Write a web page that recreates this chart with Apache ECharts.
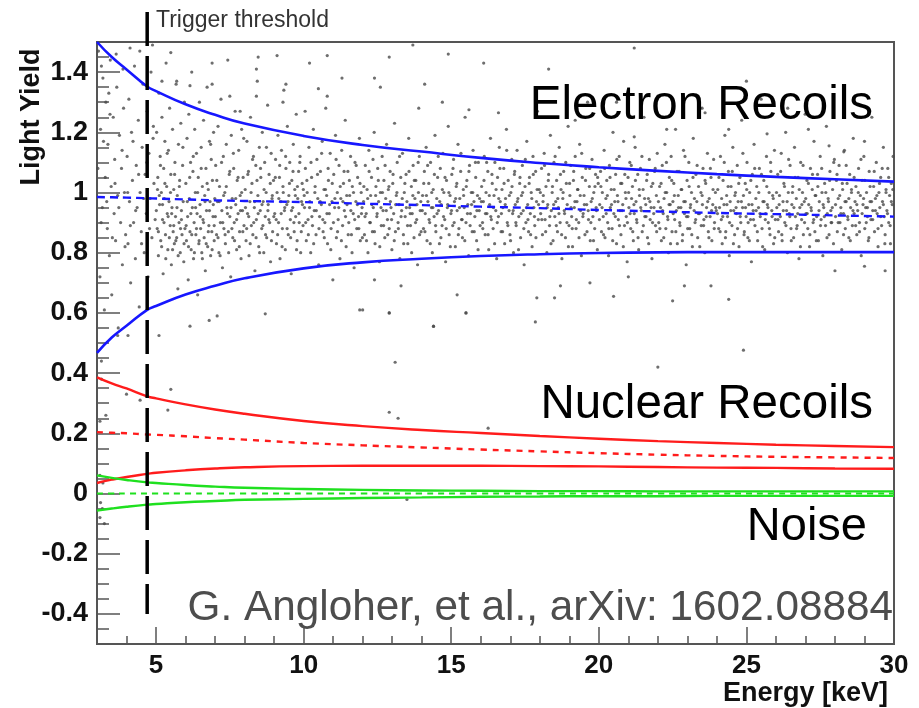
<!DOCTYPE html>
<html>
<head>
<meta charset="utf-8">
<script src="https://cdn.jsdelivr.net/npm/echarts@6/dist/echarts.min.js"></script>
<style>
  html, body { margin: 0; padding: 0; background: #fff; }
  #container { width: 919px; height: 708px; }
</style>
</head>
<body>
<div id="container"></div>
<script>
// band curves
var energyGrid = [3, 3.5, 4, 4.7, 5, 6, 7, 8, 10, 12, 14, 16, 18, 20, 22, 24, 26, 28, 30];
var erUpper  = [1.50, 1.45, 1.409, 1.352, 1.337, 1.293, 1.258, 1.229, 1.188, 1.158, 1.136, 1.115, 1.098, 1.084, 1.072, 1.061, 1.052, 1.044, 1.036];
var erCenter = [0.985, 0.984, 0.983, 0.981, 0.98, 0.977, 0.974, 0.972, 0.968, 0.963, 0.958, 0.953, 0.948, 0.942, 0.937, 0.932, 0.928, 0.924, 0.92];
var erLower  = [0.467, 0.518, 0.557, 0.61, 0.623, 0.661, 0.69, 0.715, 0.748, 0.768, 0.78, 0.789, 0.795, 0.799, 0.801, 0.802, 0.802, 0.802, 0.802];
var nrUpper  = [0.386, 0.366, 0.349, 0.323, 0.316, 0.296, 0.279, 0.265, 0.241, 0.224, 0.211, 0.201, 0.191, 0.182, 0.174, 0.168, 0.162, 0.158, 0.154];
var nrCenter = [0.204, 0.202, 0.2, 0.196, 0.195, 0.19, 0.184, 0.179, 0.168, 0.16, 0.153, 0.146, 0.14, 0.134, 0.129, 0.125, 0.122, 0.12, 0.118];
var nrLower  = [0.035, 0.046, 0.055, 0.065, 0.069, 0.077, 0.083, 0.087, 0.091, 0.092, 0.092, 0.092, 0.091, 0.09, 0.088, 0.086, 0.085, 0.083, 0.082];
var noiseUpper  = [0.06, 0.052, 0.045, 0.037, 0.035, 0.028, 0.023, 0.019, 0.015, 0.012, 0.01, 0.009, 0.008, 0.008, 0.007, 0.007, 0.007, 0.007, 0.007];
var noiseCenter = [0, 0, 0, 0, 0, 0, 0, 0, 0, 0, 0, 0, 0, 0, 0, 0, 0, 0, 0];
var noiseLower  = [-0.057, -0.05, -0.044, -0.037, -0.035, -0.029, -0.025, -0.021, -0.018, -0.015, -0.013, -0.011, -0.01, -0.009, -0.009, -0.008, -0.008, -0.008, -0.008];

var triggerEnergy = 4.7;
var triggerSpan = [1.6, -0.4];

// ticks
var xMajorTicks = [5, 10, 15, 20, 25, 30];
var xMinorTicks = [4, 6, 7, 8, 9, 11, 12, 13, 14, 16, 17, 18, 19, 21, 22, 23, 24, 26, 27, 28, 29];
var yMajorTicks = [-0.4, -0.2, 0, 0.2, 0.4, 0.6, 0.8, 1, 1.2, 1.4];
var yMinorTicks = [-0.45, -0.35, -0.3, -0.25, -0.15, -0.1, -0.05, 0.05, 0.1, 0.15, 0.25, 0.3, 0.35, 0.45,
  0.5, 0.55, 0.65, 0.7, 0.75, 0.85, 0.9, 0.95, 1.05, 1.1, 1.15, 1.25, 1.3, 1.35, 1.45];

// events (energy keV, light yield)
var events3to5 = [[3.05,1.47],[3.1,0.72],[3.12,1.21],[3.18,0.95],[3.2,1.38],[3.25,0.61],[3.28,1.05],[3.3,1.3],[3.35,0.88],[3.37,1.16],
  [3.42,0.79],[3.45,1.44],[3.48,1.02],[3.5,0.66],[3.55,1.25],[3.58,0.93],[3.6,1.11],[3.63,0.84],[3.67,1.35],[3.7,0.99],
  [3.72,0.55],[3.76,1.19],[3.8,0.9],[3.83,1.08],[3.86,0.76],[3.9,1.28],[3.93,1.0],[3.97,0.86],[3.15,1.42],[3.4,1.33],
  [3.65,1.46],[3.88,1.41],[4.02,1.12],[4.05,0.83],[4.08,1.31],[4.1,0.97],[4.14,0.7],[4.17,1.2],[4.2,1.04],[4.24,0.9],
  [4.27,1.42],[4.3,0.78],[4.33,1.09],[4.36,0.95],[4.4,1.24],[4.43,0.62],[4.46,1.0],[4.5,0.87],[4.53,1.15],[4.56,1.36],
  [4.6,0.8],[4.63,1.06],[4.67,0.93],[4.7,1.27],[4.73,0.72],[4.76,1.13],[4.8,0.98],[4.83,1.4],[4.86,0.85],[4.9,1.18],
  [4.93,1.03],[4.97,0.91],[4.12,1.48],[4.45,1.47],[4.88,1.49],
  [3.03,1.08],[3.14,0.9],[3.22,1.17],[3.33,0.97],[3.44,1.26],[3.52,0.85],[3.61,1.03],[3.74,0.95],[3.85,1.14],[3.95,0.82],
  [4.04,1.0],[4.13,0.89],[4.22,1.17],[4.31,0.94],[4.41,1.06],[4.51,0.83],[4.58,0.98],[4.69,1.1],[4.78,0.88],[4.91,1.22]];
var events5to8 = [[5.02,1.2],[5.04,0.88],[5.06,1.05],[5.08,0.79],[5.1,1.33],[5.12,0.96],[5.14,1.12],[5.16,0.84],[5.18,1.0],[5.2,1.25],
  [5.22,0.91],[5.24,0.73],[5.26,1.08],[5.28,0.98],[5.3,1.17],[5.32,0.86],[5.34,1.43],[5.36,1.02],[5.38,0.93],[5.4,0.81],
  [5.42,1.14],[5.44,0.97],[5.46,1.28],[5.48,0.89],[5.5,1.06],[5.52,0.76],[5.54,0.95],[5.56,1.21],[5.58,0.87],[5.6,1.01],
  [5.62,0.83],[5.64,1.1],[5.66,0.92],[5.68,1.36],[5.7,0.85],[5.72,0.99],[5.74,0.68],[5.76,1.16],[5.78,0.9],[5.8,1.04],
  [5.82,0.8],[5.84,1.23],[5.86,0.94],[5.88,0.86],[5.9,1.09],[5.92,0.97],[5.94,0.77],[5.96,1.3],[5.98,0.88],
  [6.01,1.03],[6.03,0.84],[6.05,1.18],[6.07,0.92],[6.09,0.71],[6.11,1.26],[6.13,0.98],[6.15,0.87],[6.17,1.1],[6.19,0.81],
  [6.21,1.4],[6.23,0.95],[6.25,1.07],[6.27,0.78],[6.29,0.9],[6.31,1.21],[6.33,1.0],[6.35,0.86],[6.37,1.13],[6.39,0.93],
  [6.41,0.66],[6.43,1.05],[6.45,0.83],[6.47,1.3],[6.49,0.96],[6.51,0.88],[6.53,1.15],[6.55,0.8],[6.57,1.02],[6.59,0.91],
  [6.61,1.24],[6.63,0.85],[6.65,0.99],[6.67,0.74],[6.69,1.08],[6.71,0.94],[6.73,1.35],[6.75,0.82],[6.77,1.01],[6.79,0.89],
  [6.81,1.17],[6.83,0.97],[6.85,0.79],[6.87,1.11],[6.89,0.87],[6.91,1.04],[6.93,0.92],[6.95,1.2],[6.97,0.84],[6.99,0.98],
  [7.02,1.09],[7.05,0.86],[7.08,0.97],[7.1,1.22],[7.13,0.8],[7.15,1.02],[7.18,0.9],[7.2,1.31],[7.23,0.94],[7.25,0.75],
  [7.28,1.12],[7.3,0.88],[7.33,1.0],[7.35,0.83],[7.38,1.16],[7.4,0.95],[7.43,1.44],[7.45,0.87],[7.48,1.06],[7.5,0.92],
  [7.53,0.72],[7.55,1.19],[7.58,0.98],[7.6,0.85],[7.63,1.08],[7.65,0.9],[7.68,1.27],[7.7,0.96],[7.73,0.81],[7.75,1.04],
  [7.78,0.93],[7.8,1.14],[7.83,0.87],[7.85,0.99],[7.88,0.78],[7.9,1.21],[7.93,0.94],[7.95,1.05],[7.98,0.89],
  [5.01,0.94],[5.05,1.01],[5.08,0.87],[5.11,0.99],[5.15,1.09],[5.19,0.82],[5.22,0.96],[5.27,0.9],[5.3,1.03],[5.33,0.78],
  [5.38,1.13],[5.41,0.92],[5.45,0.85],[5.49,1.0],[5.53,0.93],[5.56,0.81],[5.6,0.89],[5.63,1.06],[5.67,0.84],[5.71,0.95],
  [5.75,0.79],[5.79,1.02],[5.83,0.88],[5.86,0.91],[5.91,1.15],[5.95,0.83],
  [6.02,0.89],[6.06,0.97],[6.1,0.82],[6.14,1.05],[6.18,0.93],[6.21,0.86],[6.26,1.12],[6.3,0.8],[6.34,0.95],[6.37,0.88],
  [6.41,1.0],[6.46,0.84],[6.5,0.92],[6.53,1.08],[6.57,0.78],[6.61,0.9],[6.66,0.97],[6.7,0.83],[6.73,1.03],[6.77,0.87],
  [6.81,0.94],[6.85,1.16],[6.9,0.81],[6.94,0.96],[6.97,0.89],
  [7.01,0.92],[7.06,1.04],[7.1,0.85],[7.14,0.97],[7.17,0.79],[7.22,1.1],[7.26,0.9],[7.29,0.99],[7.34,0.86],[7.38,1.02],
  [7.42,0.93],[7.46,0.8],[7.5,1.07],[7.54,0.95],[7.57,0.88],[7.62,1.13],[7.66,0.84],[7.7,0.98],[7.73,0.91],[7.78,1.05],
  [7.82,0.82],[7.86,0.94],[7.9,1.0],[7.94,0.87],[7.97,1.18]];
var events8to12 = [[8.02,1.01],[8.05,0.84],[8.08,1.17],[8.1,0.93],[8.13,1.07],[8.15,0.79],[8.18,0.97],[8.2,1.25],[8.23,0.89],[8.25,1.03],
  [8.28,0.86],[8.3,1.12],[8.33,0.95],[8.35,0.74],[8.38,1.09],[8.4,0.91],[8.43,1.37],[8.45,0.99],[8.48,0.82],[8.5,1.15],
  [8.53,0.94],[8.55,1.05],[8.58,0.88],[8.6,1.2],[8.63,0.97],[8.65,0.8],[8.68,1.1],[8.7,0.92],[8.73,1.0],[8.75,0.85],
  [8.78,1.29],[8.8,0.96],[8.83,1.06],[8.85,0.9],[8.88,0.77],[8.9,1.13],[8.93,0.98],[8.95,0.87],[8.98,1.04],
  [9.02,0.93],[9.05,1.11],[9.08,0.83],[9.1,1.0],[9.13,1.19],[9.15,0.9],[9.18,1.05],[9.2,0.78],[9.23,0.97],[9.25,1.14],
  [9.28,0.88],[9.3,1.02],[9.33,1.34],[9.35,0.94],[9.38,0.81],[9.4,1.08],[9.43,0.96],[9.45,1.22],[9.48,0.86],[9.5,0.99],
  [9.53,1.1],[9.55,0.91],[9.58,0.73],[9.6,1.04],[9.63,0.95],[9.65,1.16],[9.68,0.87],[9.7,1.01],[9.73,0.92],[9.75,1.26],
  [9.78,0.84],[9.8,0.98],[9.83,1.07],[9.85,0.9],[9.88,1.12],[9.9,0.8],[9.93,0.97],[9.95,1.03],[9.98,0.89],
  [10.03,0.95],[10.06,1.08],[10.09,0.84],[10.12,1.0],[10.15,0.91],[10.18,1.15],[10.21,0.97],[10.24,0.8],[10.27,1.05],[10.3,0.89],
  [10.33,1.21],[10.36,0.94],[10.39,1.02],[10.42,0.86],[10.45,1.11],[10.48,0.98],[10.51,0.76],[10.54,0.92],[10.57,1.07],[10.6,0.96],
  [10.63,1.17],[10.66,0.87],[10.69,1.01],[10.72,0.9],[10.75,1.28],[10.78,0.99],[10.81,0.83],[10.84,1.04],[10.87,0.93],[10.9,1.13],
  [10.93,0.88],[10.96,0.97],[10.99,0.71],[11.02,1.06],[11.05,0.95],[11.08,1.19],[11.11,0.85],[11.14,1.0],[11.17,0.91],[11.2,1.09],
  [11.23,0.78],[11.26,0.98],[11.29,1.14],[11.32,0.89],[11.35,1.03],[11.38,0.94],[11.41,1.24],[11.44,0.82],[11.47,0.96],[11.5,1.07],
  [11.53,0.9],[11.56,0.99],[11.59,1.12],[11.62,0.86],[11.65,1.02],[11.68,0.93],[11.71,0.75],[11.74,1.1],[11.77,0.97],[11.8,0.88],
  [11.83,1.05],[11.86,0.92],[11.89,1.18],[11.92,0.84],[11.95,1.0],[11.98,0.95],
  [8.03,0.95],[8.07,0.88],[8.11,1.06],[8.14,0.92],[8.19,0.83],[8.22,1.0],[8.27,1.11],[8.31,0.9],[8.34,0.97],[8.39,0.85],
  [8.42,1.04],[8.46,0.93],[8.51,0.8],[8.54,1.08],[8.59,0.96],[8.62,0.89],[8.66,1.01],[8.71,0.86],[8.74,1.15],[8.79,0.94],
  [8.82,0.91],[8.87,1.03],[8.91,0.84],[8.94,0.99],[8.99,0.92],
  [9.04,1.05],[9.07,0.91],[9.12,0.86],[9.16,0.98],[9.19,1.09],[9.24,0.93],[9.27,0.82],[9.31,1.0],[9.36,0.95],[9.39,1.12],
  [9.44,0.88],[9.47,0.97],[9.52,1.03],[9.56,0.85],[9.59,0.94],[9.64,1.07],[9.67,0.9],[9.72,0.99],[9.76,0.81],[9.79,1.02],
  [9.84,0.93],[9.87,1.1],[9.92,0.87],[9.96,0.96],[9.99,1.01],
  [10.02,0.99],[10.07,0.9],[10.11,1.04],[10.16,0.86],[10.2,0.95],[10.25,1.1],[10.28,0.92],[10.34,0.83],[10.38,1.0],[10.43,0.94],
  [10.47,1.06],[10.52,0.88],[10.56,0.97],[10.61,1.13],[10.65,0.91],[10.7,0.85],[10.74,1.01],[10.79,0.93],[10.83,1.08],[10.88,0.96],
  [10.92,0.81],[10.97,1.03],[11.01,0.9],[11.06,0.98],[11.1,1.11],[11.15,0.87],[11.19,0.95],[11.24,1.02],[11.28,0.84],[11.33,0.97],
  [11.37,1.07],[11.42,0.92],[11.46,0.99],[11.51,0.86],[11.55,1.04],[11.6,0.94],[11.64,0.8],[11.69,1.0],[11.73,0.91],[11.78,1.09],
  [11.82,0.96],[11.87,0.88],[11.91,1.03],[11.96,0.93],[11.99,0.85]];
var events12to16 = [[12.03,0.97],[12.06,0.86],[12.09,1.09],[12.12,0.93],[12.15,1.01],[12.18,0.8],[12.21,1.14],[12.24,0.9],[12.27,0.99],[12.3,1.05],
  [12.33,0.87],[12.36,0.95],[12.39,1.2],[12.42,0.83],[12.45,1.02],[12.48,0.92],[12.51,1.08],[12.54,0.97],[12.57,0.77],[12.6,1.0],
  [12.63,0.89],[12.66,1.12],[12.69,0.94],[12.72,1.04],[12.75,0.85],[12.78,0.98],[12.81,1.16],[12.84,0.91],[12.87,1.01],[12.9,0.88],
  [12.93,1.07],[12.96,0.95],[12.99,0.81],[13.02,1.03],[13.05,0.93],[13.08,1.23],[13.11,0.87],[13.14,0.99],[13.17,1.1],[13.2,0.9],
  [13.23,0.96],[13.26,0.78],[13.29,1.05],[13.32,0.94],[13.35,1.13],[13.38,0.86],[13.41,1.0],[13.44,0.92],[13.47,1.06],[13.5,0.97],
  [13.53,0.83],[13.56,1.18],[13.59,0.95],[13.62,0.89],[13.65,1.02],[13.68,0.93],[13.71,1.09],[13.74,0.85],[13.77,0.98],[13.8,1.04],
  [13.83,0.91],[13.86,0.76],[13.89,1.0],[13.92,1.12],[13.95,0.94],[13.98,0.87],
  [14.03,0.99],[14.06,0.88],[14.09,1.07],[14.12,0.93],[14.15,1.15],[14.18,0.84],[14.21,0.97],[14.24,1.03],[14.27,0.9],[14.3,1.1],
  [14.33,0.95],[14.36,0.8],[14.39,1.01],[14.42,0.92],[14.45,1.19],[14.48,0.87],[14.51,0.98],[14.54,1.05],[14.57,0.94],[14.6,0.83],
  [14.63,1.08],[14.66,0.96],[14.69,0.89],[14.72,1.13],[14.75,1.0],[14.78,0.91],[14.81,0.77],[14.84,1.04],[14.87,0.95],[14.9,1.22],
  [14.93,0.86],[14.96,0.99],[14.99,0.93],[15.02,1.06],[15.05,0.89],[15.08,1.11],[15.11,0.97],[15.14,0.82],[15.17,1.02],[15.2,0.94],
  [15.23,1.16],[15.26,0.88],[15.29,0.98],[15.32,1.07],[15.35,0.91],[15.38,0.85],[15.41,1.01],[15.44,0.95],[15.47,1.25],[15.5,0.9],
  [15.53,1.04],[15.56,0.96],[15.59,0.79],[15.62,1.09],[15.65,0.93],[15.68,1.0],[15.71,0.87],[15.74,1.14],[15.77,0.97],[15.8,0.92],
  [15.83,1.05],[15.86,0.84],[15.89,0.99],[15.92,1.1],[15.95,0.94],[15.98,0.89],
  [12.04,1.02],[12.08,0.92],[12.13,0.84],[12.17,0.98],[12.22,1.07],[12.26,0.9],[12.31,0.96],[12.35,1.11],[12.4,0.87],[12.44,0.99],
  [12.49,0.93],[12.53,1.04],[12.58,0.82],[12.62,0.95],[12.67,1.0],[12.71,0.89],[12.76,1.09],[12.8,0.94],[12.85,0.86],[12.89,1.02],
  [12.94,0.97],[12.98,0.91],[13.03,1.06],[13.07,0.84],[13.12,0.96],[13.16,1.0],[13.21,0.88],[13.25,1.12],[13.3,0.92],[13.34,0.98],
  [13.39,0.83],[13.43,1.03],[13.48,0.95],[13.52,0.89],[13.57,1.07],[13.61,0.93],[13.66,0.8],[13.7,0.99],[13.75,1.04],[13.79,0.9],
  [13.84,0.96],[13.88,1.1],[13.93,0.86],[13.97,0.97],
  [14.02,0.94],[14.07,1.03],[14.11,0.87],[14.16,0.99],[14.2,1.09],[14.25,0.91],[14.29,0.83],[14.34,1.0],[14.38,0.95],[14.43,1.06],
  [14.47,0.89],[14.52,0.93],[14.56,1.12],[14.61,0.97],[14.65,0.85],[14.7,1.01],[14.74,0.92],[14.79,1.05],[14.83,0.88],[14.88,0.96],
  [14.92,1.0],[14.97,0.82],[15.01,0.94],[15.06,1.08],[15.1,0.9],[15.15,0.98],[15.19,1.03],[15.24,0.86],[15.28,0.95],[15.33,1.13],
  [15.37,0.91],[15.42,0.99],[15.46,0.84],[15.51,1.02],[15.55,0.93],[15.6,1.07],[15.64,0.89],[15.69,0.96],[15.73,1.0],[15.78,0.87],
  [15.82,1.1],[15.87,0.94],[15.91,0.81],[15.96,0.98]];
var events16to20 = [[16.03,1.02],[16.06,0.9],[16.09,0.97],[16.12,1.12],[16.15,0.86],[16.18,1.0],[16.21,0.93],[16.24,1.07],[16.27,0.81],[16.3,0.96],
  [16.33,1.18],[16.36,0.91],[16.39,1.03],[16.42,0.88],[16.45,0.99],[16.48,1.1],[16.51,0.94],[16.54,0.78],[16.57,1.05],[16.6,0.92],
  [16.63,1.15],[16.66,0.97],[16.69,0.87],[16.72,1.01],[16.75,0.95],[16.78,1.08],[16.81,0.83],[16.84,0.98],[16.87,1.21],[16.9,0.9],
  [16.93,1.04],[16.96,0.94],[16.99,0.86],[17.02,1.0],[17.05,1.11],[17.08,0.93],[17.11,0.8],[17.14,1.06],[17.17,0.96],[17.2,0.89],
  [17.23,1.14],[17.26,0.98],[17.29,0.92],[17.32,1.03],[17.35,0.85],[17.38,0.99],[17.41,1.09],[17.44,0.94],[17.47,0.76],[17.5,1.02],
  [17.53,0.9],[17.56,1.17],[17.59,0.96],[17.62,0.87],[17.65,1.05],[17.68,0.93],[17.71,1.0],[17.74,0.82],[17.77,1.12],[17.8,0.95],
  [17.83,0.89],[17.86,1.07],[17.89,0.97],[17.92,1.27],[17.95,0.91],[17.98,1.01],
  [18.03,0.93],[18.06,1.08],[18.09,0.86],[18.12,0.99],[18.15,1.13],[18.18,0.91],[18.21,1.02],[18.24,0.8],[18.27,0.96],[18.3,1.06],
  [18.33,0.89],[18.36,1.19],[18.39,0.94],[18.42,1.0],[18.45,0.84],[18.48,1.1],[18.51,0.92],[18.54,0.97],[18.57,1.04],[18.6,0.87],
  [18.63,0.95],[18.66,1.15],[18.69,0.9],[18.72,1.01],[18.75,0.78],[18.78,0.98],[18.81,1.07],[18.84,0.93],[18.87,0.85],[18.9,1.03],
  [18.93,0.96],[18.96,1.22],[18.99,0.89],[19.02,0.99],[19.05,1.09],[19.08,0.92],[19.11,0.82],[19.14,1.04],[19.17,0.95],[19.2,1.12],
  [19.23,0.88],[19.26,0.97],[19.29,1.01],[19.32,0.9],[19.35,1.16],[19.38,0.94],[19.41,0.79],[19.44,1.05],[19.47,0.93],[19.5,0.99],
  [19.53,0.86],[19.56,1.08],[19.59,0.96],[19.62,1.3],[19.65,0.91],[19.68,1.02],[19.71,0.84],[19.74,0.97],[19.77,1.11],[19.8,0.92],
  [19.83,1.0],[19.86,0.88],[19.89,1.06],[19.92,0.94],[19.95,0.81],[19.98,1.03],
  [16.02,0.97],[16.07,0.88],[16.11,1.04],[16.16,0.93],[16.2,1.1],[16.25,0.86],[16.29,0.99],[16.34,0.92],[16.38,1.06],[16.43,0.95],
  [16.47,0.83],[16.52,1.01],[16.56,0.9],[16.61,0.98],[16.65,1.08],[16.7,0.93],[16.74,0.87],[16.79,1.03],[16.83,0.96],[16.88,1.14],
  [16.92,0.89],[16.97,0.99],[17.01,0.84],[17.06,1.02],[17.1,0.94],[17.15,1.07],[17.19,0.9],[17.24,0.97],[17.28,0.81],[17.33,1.05],
  [17.37,0.93],[17.42,1.0],[17.46,0.88],[17.51,1.11],[17.55,0.95],[17.6,0.91],[17.64,1.03],[17.69,0.86],[17.73,0.98],[17.78,1.06],
  [17.82,0.92],[17.87,0.85],[17.91,1.01],[17.96,0.96],
  [18.02,1.0],[18.07,0.91],[18.11,0.97],[18.16,1.09],[18.2,0.87],[18.25,0.95],[18.29,1.04],[18.34,0.92],[18.38,0.83],[18.43,1.02],
  [18.47,0.96],[18.52,1.12],[18.56,0.89],[18.61,0.98],[18.65,0.93],[18.7,1.06],[18.74,0.86],[18.79,1.0],[18.83,0.94],[18.88,1.1],
  [18.92,0.9],[18.97,0.82],[19.01,1.03],[19.06,0.95],[19.1,0.88],[19.15,1.07],[19.19,0.97],[19.24,0.91],[19.28,1.01],[19.33,0.85],
  [19.37,0.99],[19.42,1.13],[19.46,0.92],[19.51,0.96],[19.55,1.04],[19.6,0.87],[19.64,0.94],[19.69,1.08],[19.73,0.9],[19.78,0.98],
  [19.82,0.84],[19.87,1.02],[19.91,0.95],[19.96,1.05]];
var events20to25 = [[20.03,0.96],[20.06,1.07],[20.09,0.87],[20.12,1.0],[20.15,0.92],[20.18,1.14],[20.21,0.85],[20.24,0.98],[20.27,1.04],[20.3,0.9],
  [20.33,0.79],[20.36,1.09],[20.39,0.95],[20.42,1.01],[20.45,0.88],[20.48,1.2],[20.51,0.93],[20.54,0.97],[20.57,1.06],[20.6,0.83],
  [20.63,0.99],[20.66,0.91],[20.69,1.12],[20.72,0.94],[20.75,0.86],[20.78,1.03],[20.81,0.96],[20.84,1.17],[20.87,0.89],[20.9,1.0],
  [20.93,0.92],[20.96,0.77],[20.99,1.05],[21.02,0.95],[21.05,1.1],[21.08,0.88],[21.11,0.98],[21.14,1.02],[21.17,0.84],[21.2,0.93],
  [21.23,1.15],[21.26,0.97],[21.29,0.9],[21.32,1.06],[21.35,0.81],[21.38,0.99],[21.41,1.08],[21.44,0.94],[21.47,0.87],[21.5,1.01],
  [21.53,1.25],[21.56,0.92],[21.59,0.96],[21.62,1.04],[21.65,0.85],[21.68,0.98],[21.71,1.11],[21.74,0.91],[21.77,0.95],[21.8,0.78],
  [21.83,1.03],[21.86,0.93],[21.89,1.07],[21.92,0.89],[21.95,0.99],[21.98,1.13],
  [22.03,0.9],[22.06,1.02],[22.09,0.95],[22.12,0.84],[22.15,1.09],[22.18,0.93],[22.21,0.98],[22.24,1.16],[22.27,0.88],[22.3,1.0],
  [22.33,0.92],[22.36,0.8],[22.39,1.05],[22.42,0.96],[22.45,1.12],[22.48,0.87],[22.51,0.97],[22.54,1.03],[22.57,0.91],[22.6,1.21],
  [22.63,0.94],[22.66,0.83],[22.69,0.99],[22.72,1.07],[22.75,0.89],[22.78,0.95],[22.81,1.01],[22.84,0.86],[22.87,1.14],[22.9,0.93],
  [22.93,0.97],[22.96,0.76],[22.99,1.04],[23.02,0.92],[23.05,1.1],[23.08,0.88],[23.11,0.96],[23.14,1.0],[23.17,0.82],[23.2,1.18],
  [23.23,0.94],[23.26,0.9],[23.29,1.06],[23.32,0.97],[23.35,0.85],[23.38,1.02],[23.41,0.93],[23.44,1.28],[23.47,0.89],[23.5,0.99],
  [23.53,1.08],[23.56,0.91],[23.59,0.8],[23.62,1.03],[23.65,0.95],[23.68,1.13],[23.71,0.87],[23.74,0.98],[23.77,0.92],[23.8,1.05],
  [23.83,0.84],[23.86,0.96],[23.89,1.11],[23.92,0.9],[23.95,1.0],[23.98,0.94],
  [24.03,1.01],[24.06,0.88],[24.09,0.95],[24.12,1.12],[24.15,0.91],[24.18,0.83],[24.21,1.04],[24.24,0.96],[24.27,1.19],[24.3,0.87],
  [24.33,0.99],[24.36,0.92],[24.39,1.07],[24.42,0.79],[24.45,0.97],[24.48,1.02],[24.51,0.89],[24.54,1.15],[24.57,0.94],[24.6,0.86],
  [24.63,1.0],[24.66,0.93],[24.69,1.09],[24.72,0.97],[24.75,0.82],[24.78,1.05],[24.81,0.9],[24.84,1.24],[24.87,0.95],[24.9,0.99],
  [24.93,0.87],[24.96,1.03],[24.99,0.92],
  [20.02,0.91],[20.07,1.02],[20.11,0.95],[20.16,0.86],[20.2,1.08],[20.25,0.93],[20.29,0.99],[20.34,0.88],[20.38,1.05],[20.43,0.96],
  [20.47,0.84],[20.52,1.01],[20.56,0.92],[20.61,1.11],[20.65,0.97],[20.7,0.89],[20.74,1.03],[20.79,0.94],[20.83,0.82],[20.88,1.06],
  [20.92,0.98],[20.97,0.9],[21.01,1.0],[21.06,0.93],[21.1,1.09],[21.15,0.87],[21.19,0.96],[21.24,1.04],[21.28,0.91],[21.33,0.85],
  [21.37,1.01],[21.42,0.95],[21.46,1.12],[21.51,0.89],[21.55,0.98],[21.6,0.92],[21.64,1.06],[21.69,0.83],[21.73,0.97],[21.78,1.02],
  [21.82,0.9],[21.87,0.95],[21.91,1.08],[21.96,0.87],
  [22.02,0.97],[22.07,0.88],[22.11,1.03],[22.16,0.94],[22.2,0.85],[22.25,1.0],[22.29,1.1],[22.34,0.91],[22.38,0.96],[22.43,0.83],
  [22.47,1.04],[22.52,0.93],[22.56,0.99],[22.61,0.87],[22.65,1.07],[22.7,0.95],[22.74,0.9],[22.79,1.01],[22.83,0.84],[22.88,0.97],
  [22.92,1.12],[22.97,0.92],[23.01,0.88],[23.06,1.02],[23.1,0.95],[23.15,0.86],[23.19,1.05],[23.24,0.98],[23.28,0.91],[23.33,1.09],
  [23.37,0.93],[23.42,0.82],[23.46,1.0],[23.51,0.96],[23.55,0.89],[23.6,1.04],[23.64,0.92],[23.69,0.97],[23.73,0.85],[23.78,1.08],
  [23.82,0.94],[23.87,1.01],[23.91,0.88],[23.96,0.95],
  [24.02,0.93],[24.07,1.05],[24.11,0.87],[24.16,0.98],[24.2,0.92],[24.25,1.1],[24.29,0.85],[24.34,0.96],[24.38,1.02],[24.43,0.9],
  [24.47,0.94],[24.52,1.07],[24.56,0.83],[24.61,0.99],[24.65,0.95],[24.7,0.88],[24.74,1.03],[24.79,0.92],[24.83,0.97],[24.88,1.13],
  [24.92,0.86],[24.97,0.95]];
var events25to30 = [[25.02,1.1],[25.05,0.85],[25.08,0.96],[25.11,1.0],[25.14,0.91],[25.17,0.77],[25.2,1.06],[25.23,0.94],[25.26,1.16],[25.29,0.89],
  [25.32,0.98],[25.35,1.02],[25.38,0.84],[25.41,0.95],[25.44,1.08],[25.47,0.92],[25.5,1.31],[25.53,0.88],[25.56,0.97],[25.59,1.04],
  [25.62,0.81],[25.65,0.93],[25.68,1.12],[25.71,0.96],[25.74,0.9],[25.77,1.0],[25.8,0.86],[25.83,1.07],[25.86,0.94],[25.89,0.99],
  [25.92,0.83],[25.95,1.14],[25.98,0.91],
  [26.03,0.95],[26.06,1.06],[26.09,0.87],[26.12,0.99],[26.15,0.92],[26.18,1.13],[26.21,0.84],[26.24,0.97],[26.27,1.03],[26.3,0.9],
  [26.33,1.2],[26.36,0.94],[26.39,0.8],[26.42,1.0],[26.45,0.93],[26.48,1.09],[26.51,0.88],[26.54,0.96],[26.57,1.02],[26.6,0.85],
  [26.63,1.15],[26.66,0.92],[26.69,0.98],[26.72,0.89],[26.75,1.05],[26.78,0.78],[26.81,0.95],[26.84,1.1],[26.87,0.91],[26.9,1.0],
  [26.93,0.86],[26.96,0.97],[26.99,1.26],[27.02,0.93],[27.05,1.04],[27.08,0.88],[27.11,0.96],[27.14,0.82],[27.17,1.08],[27.2,0.94],
  [27.23,1.01],[27.26,0.9],[27.29,1.17],[27.32,0.87],[27.35,0.99],[27.38,0.92],[27.41,1.06],[27.44,0.84],[27.47,0.97],[27.5,1.12],
  [27.53,0.91],[27.56,1.0],[27.59,0.79],[27.62,0.95],[27.65,1.03],[27.68,0.89],[27.71,1.22],[27.74,0.93],[27.77,0.98],[27.8,0.86],
  [27.83,1.07],[27.86,0.94],[27.89,0.9],[27.92,1.01],[27.95,0.83],[27.98,1.11],
  [28.02,0.92],[28.05,1.04],[28.08,0.87],[28.11,0.98],[28.14,1.09],[28.17,0.9],[28.2,0.95],[28.23,0.81],[28.26,1.01],[28.29,0.93],
  [28.32,1.14],[28.35,0.88],[28.38,0.97],[28.41,1.03],[28.44,0.91],[28.47,0.85],[28.5,1.06],[28.53,0.95],[28.56,1.0],[28.59,0.89],
  [28.62,1.18],[28.65,0.93],[28.68,0.97],[28.71,1.02],[28.74,0.86],[28.77,0.94],[28.8,1.08],[28.83,0.9],[28.86,0.99],[28.89,0.79],
  [28.92,1.04],[28.95,0.96],[28.98,1.12],[29.01,0.88],[29.04,0.95],[29.07,1.0],[29.1,0.92],[29.13,0.84],[29.16,1.07],[29.19,0.97],
  [29.22,0.91],[29.25,1.25],[29.28,0.94],[29.31,1.02],[29.34,0.87],[29.37,0.98],[29.4,1.1],[29.43,0.93],[29.46,0.82],[29.49,1.0],
  [29.52,0.95],[29.55,1.05],[29.58,0.89],[29.61,0.97],[29.64,1.15],[29.67,0.92],[29.7,0.86],[29.73,1.01],[29.76,0.94],[29.79,1.08],
  [29.82,0.9],[29.85,0.99],[29.88,0.83],[29.91,1.03],[29.94,0.96],[29.97,1.12],
  [25.01,1.01],[25.06,0.9],[25.1,0.84],[25.15,1.04],[25.19,0.96],[25.24,0.91],[25.28,1.08],[25.33,0.94],[25.37,0.87],[25.42,1.0],
  [25.46,0.93],[25.51,1.06],[25.55,0.82],[25.6,0.97],[25.64,0.91],[25.69,1.02],[25.73,0.95],[25.78,0.88],[25.82,1.1],[25.87,0.92],
  [25.91,0.98],[25.96,0.85],
  [26.02,1.0],[26.07,0.91],[26.11,0.96],[26.16,1.07],[26.2,0.86],[26.25,0.94],[26.29,1.02],[26.34,0.89],[26.38,0.97],[26.43,1.11],
  [26.47,0.92],[26.52,0.84],[26.56,1.0],[26.61,0.95],[26.65,1.05],[26.7,0.88],[26.74,0.93],[26.79,1.01],[26.83,0.82],[26.88,0.96],
  [26.92,1.09],[26.97,0.9],[27.01,0.98],[27.06,0.93],[27.1,1.03],[27.15,0.86],[27.19,0.95],[27.24,1.06],[27.28,0.91],[27.33,0.99],
  [27.37,0.84],[27.42,1.02],[27.46,0.94],[27.51,0.89],[27.55,1.08],[27.6,0.96],[27.64,0.92],[27.69,1.0],[27.73,0.85],[27.78,0.97],
  [27.82,1.04],[27.87,0.9],[27.91,0.95],[27.96,1.1],
  [28.02,0.96],[28.07,1.06],[28.11,0.9],[28.16,0.99],[28.2,0.93],[28.25,1.03],[28.29,0.86],[28.34,0.97],[28.38,1.09],[28.43,0.92],
  [28.47,0.98],[28.52,0.84],[28.56,1.01],[28.61,0.94],[28.65,1.05],[28.7,0.89],[28.74,0.96],[28.79,1.0],[28.83,0.87],[28.88,1.11],
  [28.92,0.93],[28.97,0.98],[29.01,1.04],[29.06,0.9],[29.1,0.95],[29.15,0.85],[29.19,1.02],[29.24,0.97],[29.28,0.91],[29.33,1.07],
  [29.37,0.94],[29.42,0.99],[29.46,0.88],[29.51,1.03],[29.55,0.92],[29.6,1.08],[29.64,0.96],[29.69,0.83],[29.73,1.0],[29.78,0.93],
  [29.82,1.05],[29.87,0.89],[29.91,0.97],[29.96,1.01]];
var eventsHigh = [[5.5,1.465],[8.46,1.45],[9.1,1.455],[10.8,1.455],[6.9,1.43],[10.2,1.43],[8.4,1.41],[5.7,1.37],[11.3,1.38],[6.15,1.355],
  [5.2,1.37],[9.4,1.36],[6.9,1.36],[10.5,1.345],[10.8,1.32],[8.4,1.32],[7.5,1.32],[9.3,1.3],[7.85,1.27],[10.05,1.27],
  [13.7,1.49],[14.9,1.46],[12.9,1.45],[16.1,1.43],[18.3,1.41],[12.4,1.38],[14.1,1.36],[12.6,1.35],[14.7,1.3],[13.9,1.28],
  [15.6,1.275],[16.6,1.265],[21.2,1.48],[25.0,1.37],[23.6,1.265],[22.3,1.21],[25.7,1.195],[29.0,1.17],[21.2,1.185],[24.4,1.21],
  [27.1,1.21],[27.8,1.155],[28.3,1.135],[22.0,1.32],[23.5,1.28],[19.2,1.24],[20.6,1.3],[26.4,1.28]];
var eventsLow = [[12.4,0.71],[13.3,0.69],[15.2,0.66],[12.9,0.6],[15.5,0.6],[14.4,0.555],[17.85,0.57],[17.9,0.65],[18.5,0.65],[18.7,0.69],
  [19.7,0.7],[20.5,0.655],[12.0,0.61],[22.5,0.64],[24.4,0.645],[22.9,0.69],[23.8,0.69],[21.0,0.72],[28.0,0.74],[29.7,0.74],
  [29.0,0.755],[6.15,0.556],[14.4,0.556],[15.5,0.6],[11.9,0.61],[12.9,0.6],[8.7,0.597],[6.8,0.575],[7.07,0.59],[5.1,0.525],
  [4.05,0.525],[3.7,0.525],[22.0,0.42],[24.9,0.476],[13.1,0.436],[12.9,0.27],[13.2,0.25],[16.25,0.217],[5.5,0.346],[5.4,0.277],
  [4.0,0.33],[4.46,0.31],[3.15,0.44],[3.15,0.38],[3.3,0.26],[3.1,0.24],[3.1,0.06],[3.2,0.035],[3.12,-0.03],[3.18,-0.05],
  [3.1,-0.08],[3.25,-0.1],[13.5,-0.02]];

var dom = document.getElementById('container');
var myChart = echarts.init(dom, null, {renderer: 'canvas'});

var fontFamily = "'Liberation Sans', Arial, Helvetica, sans-serif";

var toCurve = function (ys) {
  return energyGrid.map(function (e, i) { return [e, ys[i]]; });
};

var curve = function (ys, color, dash, width) {
  return {
    type: 'line',
    data: toCurve(ys),
    showSymbol: false,
    symbol: 'none',
    smooth: 0.5,
    silent: true,
    lineStyle: {color: color, width: width, type: dash}
  };
};

var blue = '#1717ff';
var red = '#ff1c1c';
var green = '#1fe01f';

var series = [];
series.push({
  type: 'scatter',
  data: [].concat(events3to5, events5to8, events8to12, events12to16, events16to20, events20to25, events25to30, eventsHigh, eventsLow),
  symbolSize: 3.2,
  silent: true,
  itemStyle: {color: '#4a4a4a'}
});
series.push(curve(erUpper, blue, 'solid', 2.6));
series.push(curve(erCenter, blue, [8, 5], 2.4));
series.push(curve(erLower, blue, 'solid', 2.6));
series.push(curve(nrUpper, red, 'solid', 2.4));
series.push(curve(nrCenter, red, [6, 6], 2.4));
series.push(curve(nrLower, red, 'solid', 2.4));
series.push(curve(noiseUpper, green, 'solid', 2.4));
series.push(curve(noiseCenter, green, [6, 5], 2.2));
series.push(curve(noiseLower, green, 'solid', 2.4));
// trigger threshold line
series.push({
  type: 'line',
  data: [[triggerEnergy, triggerSpan[0]], [triggerEnergy, triggerSpan[1]]],
  showSymbol: false,
  symbol: 'none',
  clip: false,
  silent: true,
  z: 5,
  lineStyle: {color: '#000', width: 3.5, type: [34, 10]}
});

var axisColor = '#555';
var xLabelStyle = {fontFamily: fontFamily, fontWeight: 'bold', fontSize: 26, color: '#111'};
var yLabelStyle = {fontFamily: fontFamily, fontWeight: 'bold', fontSize: 27, color: '#111'};

option = {
  backgroundColor: '#fff',
  animation: false,
  grid: {
    left: 97, right: 25, top: 42, bottom: 64,
    show: true, borderColor: axisColor, borderWidth: 2, backgroundColor: 'transparent'
  },
  xAxis: [{
    type: 'value', min: 3, max: 30, position: 'bottom',
    axisLine: {show: true, onZero: false, lineStyle: {color: axisColor, width: 2}},
    axisTick: {show: true, inside: true, length: 17, customValues: xMajorTicks, lineStyle: {color: axisColor, width: 1.5}},
    axisLabel: Object.assign({customValues: xMajorTicks, margin: 9}, xLabelStyle),
    splitLine: {show: false}
  }, {
    type: 'value', min: 3, max: 30, position: 'bottom',
    axisLine: {show: false, onZero: false},
    axisTick: {show: true, inside: true, length: 8, customValues: xMinorTicks, lineStyle: {color: axisColor, width: 1.5}},
    axisLabel: {show: false},
    splitLine: {show: false}
  }],
  yAxis: [{
    type: 'value', min: -0.5, max: 1.5, position: 'left',
    axisLine: {show: true, onZero: false, lineStyle: {color: axisColor, width: 2}},
    axisTick: {show: true, inside: true, length: 23, customValues: yMajorTicks, lineStyle: {color: axisColor, width: 1.5}},
    axisLabel: Object.assign({customValues: yMajorTicks, margin: 9}, yLabelStyle),
    splitLine: {show: false}
  }, {
    type: 'value', min: -0.5, max: 1.5, position: 'left',
    axisLine: {show: false, onZero: false},
    axisTick: {show: true, inside: true, length: 12, customValues: yMinorTicks, lineStyle: {color: axisColor, width: 1.5}},
    axisLabel: {show: false},
    splitLine: {show: false}
  }],
  graphic: [
    {type: 'text', x: 156, y: 21, z: 100, style: {text: 'Trigger threshold', fontFamily: fontFamily, fontSize: 23, fill: '#333', align: 'left', verticalAlign: 'middle'}},
    {type: 'text', x: 873, y: 106, z: 100, style: {text: 'Electron Recoils', fontFamily: fontFamily, fontSize: 47.5, fill: '#000', align: 'right', verticalAlign: 'middle'}},
    {type: 'text', x: 873, y: 405, z: 100, style: {text: 'Nuclear Recoils', fontFamily: fontFamily, fontSize: 47.5, fill: '#000', align: 'right', verticalAlign: 'middle'}},
    {type: 'text', x: 867, y: 527, z: 100, style: {text: 'Noise', fontFamily: fontFamily, fontSize: 47, fill: '#000', align: 'right', verticalAlign: 'middle'}},
    {type: 'text', x: 893, y: 608, z: 100, style: {text: 'G. Angloher, et al., arXiv: 1602.08884', fontFamily: fontFamily, fontSize: 42.3, fill: '#4d4d4d', align: 'right', verticalAlign: 'middle'}},
    {type: 'text', x: 888, y: 694, z: 100, style: {text: 'Energy [keV]', fontFamily: fontFamily, fontWeight: 'bold', fontSize: 27, fill: '#111', align: 'right', verticalAlign: 'middle'}},
    {type: 'text', x: 32, y: 117, rotation: Math.PI / 2, z: 100, style: {text: 'Light Yield', fontFamily: fontFamily, fontWeight: 'bold', fontSize: 27, fill: '#111', align: 'center', verticalAlign: 'middle'}}
  ],
  series: series
};

if (option && typeof option === 'object') {
  myChart.setOption(option, true);
}
</script>
</body>
</html>
